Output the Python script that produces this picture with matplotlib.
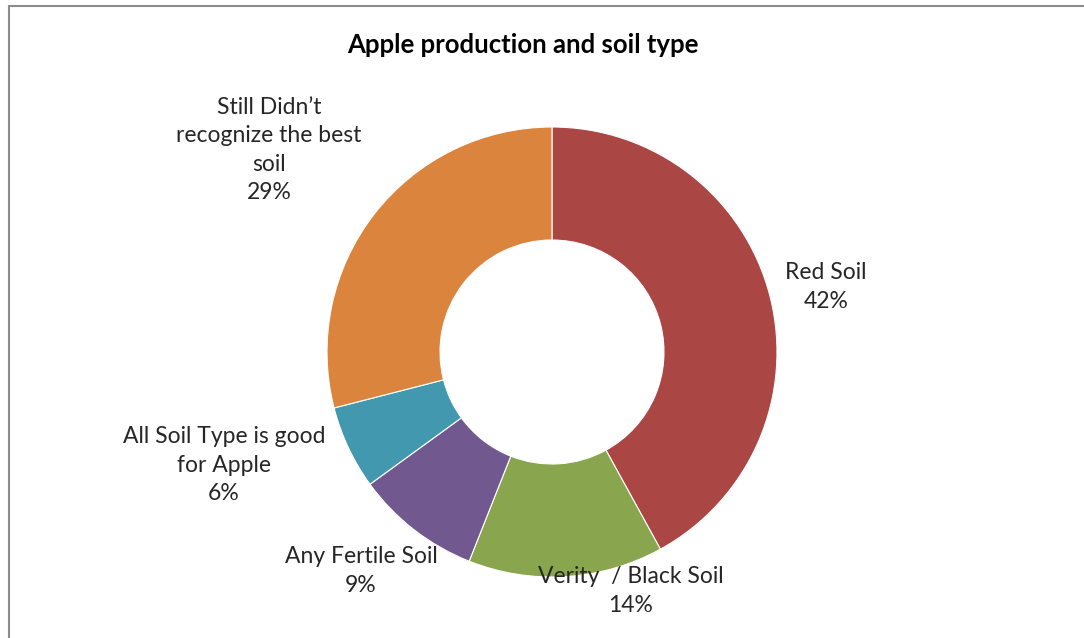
import matplotlib
matplotlib.use("Agg")
import matplotlib.pyplot as plt
from matplotlib.patches import Rectangle

categories = ["Red Soil", "Verity  / Black Soil", "Any Fertile Soil",
              "All Soil Type is good\nfor Apple", "Still Didn\u2019t\nrecognize the best\nsoil"]
values = [42, 14, 9, 6, 29]
colors = ["#AA4643", "#89A54E", "#71588F", "#4198AF", "#DB843D"]
title = "Apple production and soil type"

W, H = 1084, 638
fig = plt.figure(figsize=(W / 100, H / 100), dpi=100)
ax = fig.add_axes([0, 0, 1, 1])

# border (left and top visible)
ax.add_patch(Rectangle((9, -10), W + 20, H - 6 + 10, fill=False,
                       edgecolor="#8c8c8c", linewidth=1.5))

ax.pie(values, colors=colors, startangle=90, counterclock=False,
       center=(552, H - 352), radius=225,
       wedgeprops=dict(width=113, edgecolor="white", linewidth=0.8),
       frame=True)
ax.set_xlim(0, W)
ax.set_ylim(0, H)
ax.set_aspect("equal")
ax.axis("off")

font = "Lato"
label_pos = [(826, 287), (631, 591), (361, 571), (224, 465), (269, 150)]
for cat, val, (x, y) in zip(categories, values, label_pos):
    ax.text(x, H - y, f"{cat}\n{val}%", ha="center", va="center",
            fontsize=16.5, family=font, color="#262626", linespacing=1.45)

ax.text(523, H - 45, title, ha="center", va="center", fontsize=18.5,
        family=font, fontweight="bold", color="black")

fig.savefig("out.png", dpi=100)
